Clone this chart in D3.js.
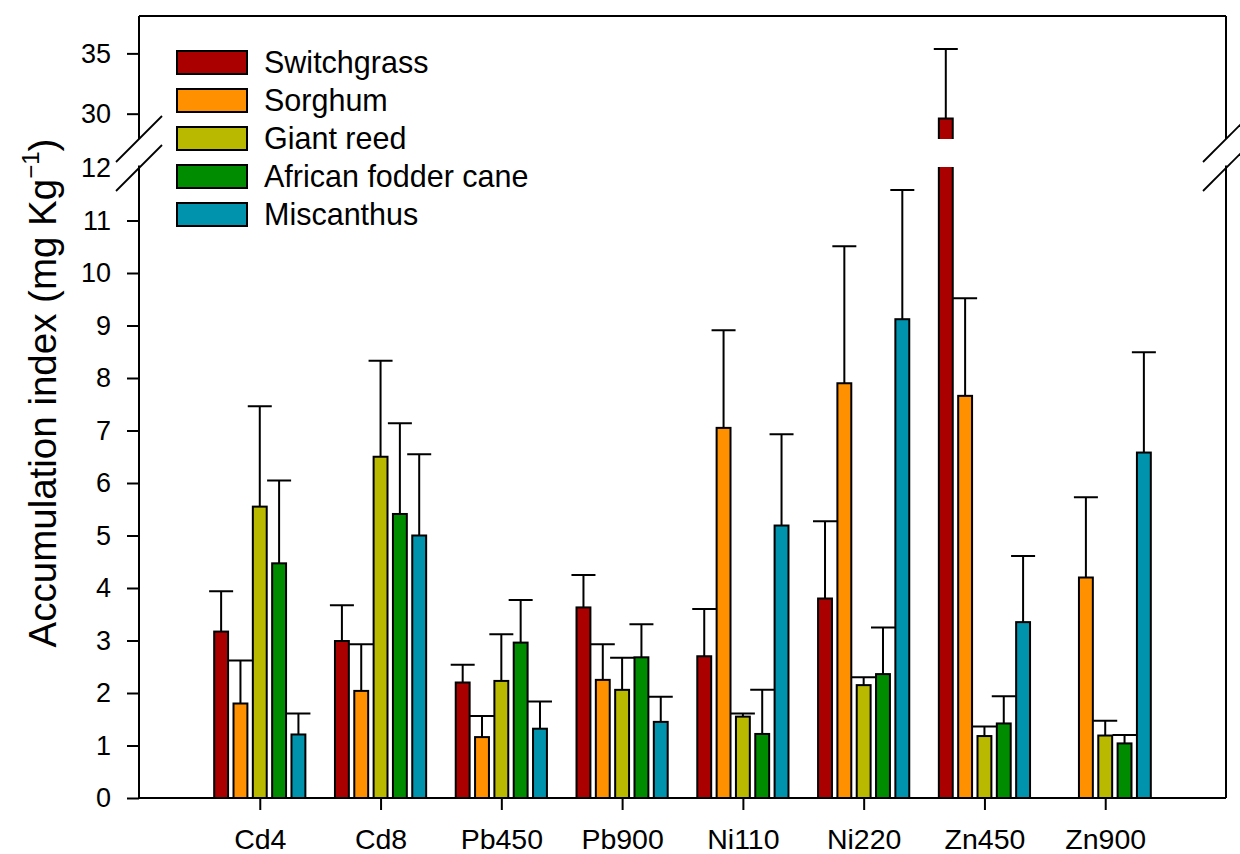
<!DOCTYPE html>
<html>
<head>
<meta charset="utf-8">
<script src="https://cdn.jsdelivr.net/npm/d3@7"></script>
<style>
  body { margin: 0; background: #fff; }
  svg { display: block; font-family: "Liberation Sans", Arial, sans-serif; }
</style>
</head>
<body>
<div id="chart"></div>
<script>
// categories and series
const categories = ["Cd4", "Cd8", "Pb450", "Pb900", "Ni110", "Ni220", "Zn450", "Zn900"];
const species = ["Switchgrass", "Sorghum", "Giant reed", "African fodder cane", "Miscanthus"];
const colors = ["#aa0000", "#ff9100", "#b9b900", "#008c00", "#0093ad"];

// means (null = no bar)
const switchgrass = [3.17, 2.99, 2.20, 3.63, 2.70, 3.80, 29.6, null];
const sorghum     = [1.80, 2.04, 1.16, 2.25, 7.05, 7.90, 7.66, 4.20];
const giantReed   = [5.55, 6.50, 2.23, 2.06, 1.55, 2.15, 1.18, 1.19];
const fodderCane  = [4.47, 5.41, 2.96, 2.68, 1.22, 2.36, 1.42, 1.04];
const miscanthus  = [1.21, 5.00, 1.32, 1.45, 5.19, 9.12, 3.35, 6.58];

// upper error bars
const switchgrassErr = [0.77, 0.68, 0.34, 0.62, 0.90, 1.47, 5.76, null];
const sorghumErr     = [0.82, 0.89, 0.40, 0.68, 1.86, 2.61, 1.86, 1.53];
const giantReedErr   = [1.91, 1.83, 0.89, 0.61, 0.06, 0.15, 0.18, 0.28];
const fodderCaneErr  = [1.58, 1.73, 0.81, 0.63, 0.84, 0.89, 0.52, 0.16];
const miscanthusErr  = [0.40, 1.55, 0.52, 0.48, 1.74, 2.46, 1.26, 1.91];

const lowTicks = [0, 1, 2, 3, 4, 5, 6, 7, 8, 9, 10, 11, 12];
const highTicks = [30, 35];

const means = [switchgrass, sorghum, giantReed, fodderCane, miscanthus];
const errs = [switchgrassErr, sorghumErr, giantReedErr, fodderCaneErr, miscanthusErr];

const W = 1240, H = 854;
const m = { left: 139, right: 1226, top: 16, bottom: 798 };

const svg = d3.select("#chart").append("svg").attr("width", W).attr("height", H);

// x: groups sit at 1..8 on a 0..9 axis
const x = d3.scaleLinear().domain([0, categories.length + 1]).range([m.left, m.right]);
// broken y axis: two segments
const yLow = d3.scaleLinear().domain([0, 12]).range([m.bottom, 168]);
const yHigh = d3.scaleLinear().domain([27.9, 38.1]).range([139, m.top]);
const lowTop = yLow(12.05);
const highBottom = yHigh(27.9);

const pitch = 0.16, barW = 0.115;

const defs = svg.append("defs");
defs.append("clipPath").attr("id", "clipLow").append("rect")
  .attr("x", m.left).attr("y", yLow(12.02)).attr("width", m.right - m.left).attr("height", m.bottom - yLow(12.02) + 2);
defs.append("clipPath").attr("id", "clipHigh").append("rect")
  .attr("x", m.left).attr("y", m.top - 2).attr("width", m.right - m.left).attr("height", highBottom - m.top + 2);

const gLow = svg.append("g").attr("clip-path", "url(#clipLow)");
const gHigh = svg.append("g").attr("clip-path", "url(#clipHigh)");

function drawSeries(g, y, s) {
  const rows = categories.map((c, i) => ({ i, v: means[s][i], e: errs[s][i] }))
    .filter(d => d.v != null);
  const cx = d => x(d.i + 1 + (s - 2) * pitch);
  const half = (x(barW) - x(0)) / 2;
  const base = y(y.domain()[0]) + (y === yHigh ? 30 : 0);
  g.selectAll(null).data(rows).join("rect")
    .attr("x", d => cx(d) - half)
    .attr("width", half * 2)
    .attr("y", d => y(d.v))
    .attr("height", d => Math.max(0, base - y(d.v)))
    .attr("fill", colors[s])
    .attr("stroke", "#000")
    .attr("stroke-width", 2);
  const capHalf = 12;
  g.selectAll(null).data(rows).join("path")
    .attr("d", d => {
      const x0 = cx(d), y0 = y(d.v), y1 = y(d.v + d.e);
      return `M${x0},${y0}V${y1}M${x0 - capHalf},${y1}H${x0 + capHalf}`;
    })
    .attr("fill", "none")
    .attr("stroke", "#000")
    .attr("stroke-width", 2);
}

for (let s = 0; s < species.length; s++) {
  drawSeries(gLow, yLow, s);
  drawSeries(gHigh, yHigh, s);
}

// frame
const frame = svg.append("g").attr("stroke", "#000").attr("stroke-width", 2).attr("fill", "none");
frame.append("line").attr("x1", m.left).attr("x2", m.right).attr("y1", m.top).attr("y2", m.top);
frame.append("line").attr("x1", m.left).attr("x2", m.right).attr("y1", m.bottom).attr("y2", m.bottom);
[m.left, m.right].forEach(xx => {
  frame.append("line").attr("x1", xx).attr("x2", xx).attr("y1", m.top).attr("y2", highBottom);
  frame.append("line").attr("x1", xx).attr("x2", xx).attr("y1", lowTop).attr("y2", m.bottom);
  // break marks
  [highBottom, yLow(12)].forEach(yy => {
    frame.append("line").attr("x1", xx - 23).attr("y1", yy + 23).attr("x2", xx + 23).attr("y2", yy - 23)
      .attr("stroke-width", 1.8);
  });
});

// y axes
function styleAxis(g) {
  g.select(".domain").remove();
  g.selectAll(".tick line").attr("stroke", "#000").attr("stroke-width", 2);
  g.selectAll(".tick text").attr("fill", "#000").attr("font-size", 27)
    .attr("font-family", "Liberation Sans, Arial, sans-serif");
}
const gyLow = svg.append("g").attr("transform", `translate(${m.left},0)`)
  .call(d3.axisLeft(yLow).tickValues(lowTicks).tickSize(12).tickPadding(16).tickFormat(d3.format("d")))
  .call(styleAxis);
gyLow.selectAll(".tick").filter(d => d === 12).select("line").remove();

svg.append("g").attr("transform", `translate(${m.left},0)`)
  .call(d3.axisLeft(yHigh).tickValues(highTicks).tickSize(12).tickPadding(16).tickFormat(d3.format("d")))
  .call(styleAxis);

// x axis
svg.append("g").attr("transform", `translate(0,${m.bottom})`)
  .call(d3.axisBottom(x).tickValues(d3.range(1, categories.length + 1)).tickSize(12).tickPadding(19)
    .tickFormat(d => categories[d - 1]))
  .call(styleAxis)
  .call(g => g.selectAll(".tick text").attr("font-size", 28.5));

// y title
const title = svg.append("text")
  .attr("transform", `translate(56,393) rotate(-90)`)
  .attr("text-anchor", "middle")
  .attr("font-size", 38.5)
  .attr("fill", "#000");
title.append("tspan").text("Accumulation index (mg Kg");
title.append("tspan").attr("font-size", 24).attr("dy", -17).text("\u22121");
title.append("tspan").attr("dy", 17).text(")");

// legend
const legend = svg.append("g").attr("transform", "translate(177,51)");
species.forEach((name, i) => {
  const row = legend.append("g").attr("transform", `translate(0,${i * 38})`);
  row.append("rect").attr("width", 70).attr("height", 23)
    .attr("fill", colors[i]).attr("stroke", "#000").attr("stroke-width", 2);
  row.append("text").attr("x", 87).attr("y", 22).attr("font-size", 30.5).attr("fill", "#000").text(name);
});
</script>
</body>
</html>
